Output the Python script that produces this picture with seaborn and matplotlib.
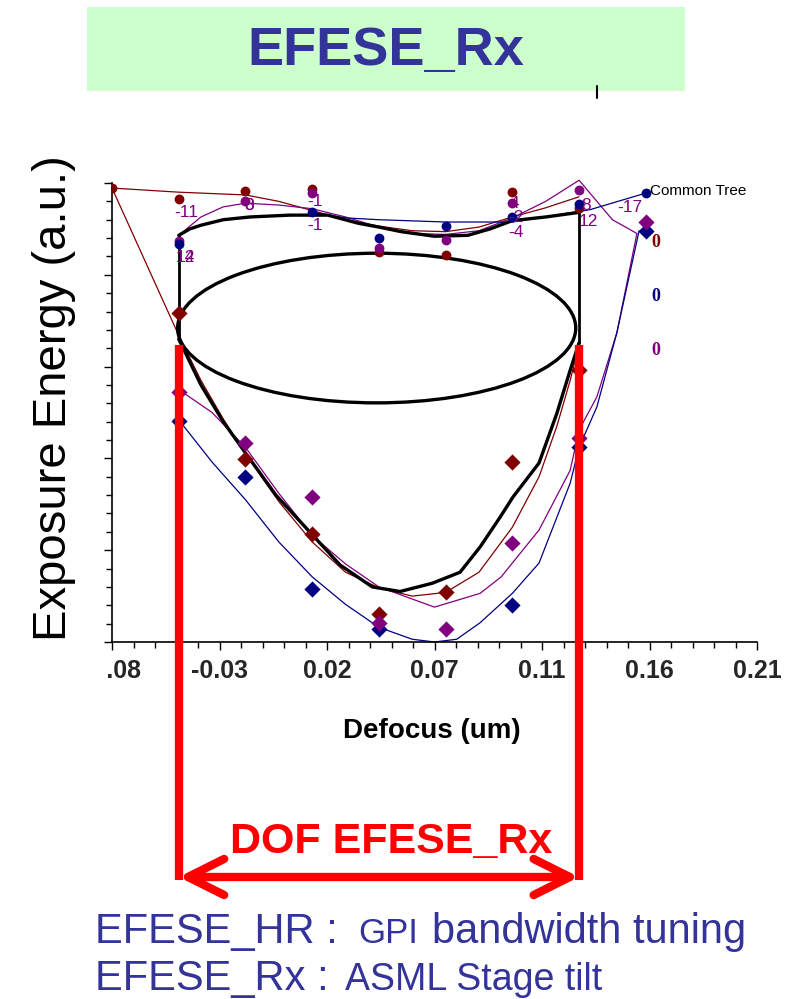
import matplotlib.pyplot as plt
import matplotlib.transforms as mtransforms
from matplotlib.patches import Ellipse, Rectangle, FancyArrowPatch
from matplotlib.lines import Line2D
from matplotlib.ticker import MultipleLocator, AutoMinorLocator
import seaborn as sns

# ---- data (defocus in um, exposure energy in a.u.) ----
xtick_labels = ["-0.08", "-0.03", "0.02", "0.07", "0.11", "0.16", "0.21"]

# upper measurement points (circles)
red_top_x = [-0.08, -0.05, -0.02, 0.01, 0.04, 0.07, 0.10, 0.13]
red_top_y = [49.45, 48.3, 49.1, 49.35, 42.5, 42.2, 49.0, 47.3]
purple_top_x = [-0.05, -0.02, 0.01, 0.04, 0.07, 0.10, 0.13]
purple_top_y = [43.7, 48.0, 48.9, 42.9, 43.8, 47.8, 49.2]
navy_top_x = [-0.05, 0.01, 0.04, 0.07, 0.10, 0.13, 0.16]
navy_top_y = [43.4, 46.8, 44.0, 45.3, 46.3, 47.7, 48.9]

# lower measurement points (diamonds)
red_low_x = [-0.05, -0.02, 0.01, 0.04, 0.07, 0.10, 0.13]
red_low_y = [35.8, 19.9, 11.8, 3.05, 5.45, 19.6, 29.6]
purple_low_x = [-0.05, -0.02, 0.01, 0.04, 0.07, 0.10, 0.13, 0.16]
purple_low_y = [27.2, 21.7, 15.8, 2.1, 1.4, 10.8, 22.2, 45.75]
navy_low_x = [-0.05, -0.02, 0.01, 0.04, 0.10, 0.13, 0.16]
navy_low_y = [24.1, 18.0, 5.8, 1.4, 4.0, 21.2, 44.8]

# fitted curves (thin coloured lines)
red_upper_x = [-0.08, -0.05, -0.02, -0.005, 0.01, 0.025, 0.04, 0.055, 0.07, 0.085, 0.10, 0.115, 0.13]
red_upper_y = [49.45, 49.0, 48.7, 48.0, 47.0, 46.0, 45.3, 44.8, 44.7, 45.2, 46.3, 47.3, 48.5]
red_lower_x = [-0.08, -0.05, -0.04, -0.03, -0.02, -0.005, 0.01, 0.025, 0.04, 0.055, 0.07,
               0.085, 0.10, 0.112, 0.12, 0.126, 0.13]
red_lower_y = [49.45, 33.4, 28.5, 24.3, 20.5, 15.3, 10.9, 7.6, 5.9, 5.0, 5.4,
               7.6, 12.5, 18.0, 23.5, 28.5, 32.3]
purple_upper_x = [-0.05, -0.04, -0.03, -0.02, -0.005, 0.01, 0.025, 0.04, 0.055, 0.07,
                  0.085, 0.10, 0.115, 0.13, 0.145, 0.156]
purple_upper_y = [44.3, 46.3, 47.4, 47.8, 47.6, 47.2, 46.3, 45.2, 44.5, 44.4,
                  44.8, 46.2, 48.0, 50.3, 46.0, 44.5]
purple_lower_x = [0.156, 0.147, 0.138, 0.13, 0.126, 0.112, 0.095, 0.0855, 0.065, 0.04,
                  0.025, 0.01, -0.005, -0.02, -0.035, -0.05]
purple_lower_y = [44.5, 33.7, 26.7, 23.1, 18.7, 12.2, 7.1, 5.3, 3.8, 6.0,
                  8.5, 11.6, 16.2, 21.2, 25.0, 27.5]
navy_upper_x = [0.01, 0.025, 0.04, 0.07, 0.10, 0.135, 0.16]
navy_upper_y = [46.8, 46.2, 46.0, 45.75, 45.75, 47.1, 48.9]
navy_lower_x = [-0.05, -0.035, -0.02, -0.005, 0.01, 0.025, 0.04, 0.055, 0.065, 0.075,
                0.0855, 0.10, 0.112, 0.126, 0.13, 0.138, 0.147, 0.157]
navy_lower_y = [24.2, 19.6, 15.5, 10.9, 7.1, 4.1, 1.6, 0.3, 0.0, 0.3,
                2.1, 5.3, 8.6, 17.3, 21.2, 25.6, 33.7, 44.8]

# common process window (black)
black_upper_x = [-0.05, -0.045, -0.04, -0.03, -0.018, 0.0, 0.017, 0.031, 0.04, 0.05,
                 0.065, 0.08, 0.09, 0.10, 0.115, 0.13]
black_upper_y = [44.3, 45.0, 45.4, 46.0, 46.3, 46.5, 46.5, 45.6, 45.2, 44.7,
                 44.2, 44.3, 45.0, 45.9, 46.3, 46.8]
black_lower_x = [-0.05, -0.04, -0.03, -0.02, -0.0063, 0.01, 0.0225, 0.037, 0.0495, 0.064,
                 0.0765, 0.0855, 0.0945, 0.1003, 0.112, 0.12, 0.126, 0.13]
black_lower_y = [33.0, 28.0, 24.0, 20.6, 16.0, 11.7, 8.4, 6.0, 5.5, 6.4,
                 7.6, 10.35, 13.6, 15.8, 19.5, 24.9, 29.6, 32.6]
ellipse_center = (0.039, 34.2)
ellipse_width = 0.179
ellipse_height = 16.3
dof_left, dof_right = -0.05, 0.13
dof_left_span = (33.0, 44.3)
dof_right_span = (32.6, 46.8)
dof_bar_top = 32.35

# point annotations
point_labels = [("-11", -0.052, 46.8), ("8", -0.0205, 47.5), ("0", -0.0205, 47.5),
                ("-1", 0.008, 48.0), ("-1", 0.008, 45.4), ("14", -0.0515, 41.9),
                ("12", -0.0515, 41.9), ("4", 0.099, 47.8), ("-2", 0.098, 46.2),
                ("-4", 0.098, 44.6), ("8", 0.131, 47.6), ("12", 0.13, 45.8),
                ("-17", 0.147, 47.3)]
zero_labels = [("0", 43.5, "#800000"), ("0", 37.6, "#000080"), ("0", 31.8, "#800080")]

RED, PURPLE, NAVY = "#800000", "#800080", "#000080"
TITLE_BLUE = "#333399"

sns.set_theme(style="ticks")
plt.rcParams['font.family'] = ['Liberation Sans', 'DejaVu Sans']

fig = plt.figure(figsize=(7.87, 9.99), dpi=100)
ax = fig.add_axes([112 / 787, 1 - 642 / 999, 645 / 787, 459 / 999])

# thin fitted curves
for xs, ys, c in [(red_upper_x, red_upper_y, RED), (red_lower_x, red_lower_y, RED),
                  (purple_upper_x, purple_upper_y, PURPLE), (purple_lower_x, purple_lower_y, PURPLE),
                  (navy_upper_x, navy_upper_y, NAVY), (navy_lower_x, navy_lower_y, NAVY)]:
    sns.lineplot(x=xs, y=ys, sort=False, estimator=None, color=c, lw=0.9, ax=ax,
                 zorder=2, clip_on=False)

# black window
sns.lineplot(x=black_upper_x, y=black_upper_y, sort=False, estimator=None,
             color="black", lw=2.4, ax=ax, zorder=3)
sns.lineplot(x=black_lower_x, y=black_lower_y, sort=False, estimator=None,
             color="black", lw=2.4, ax=ax, zorder=3)
ax.plot([dof_left, dof_left], dof_left_span, color="black", lw=2.0, zorder=3)
ax.plot([dof_right, dof_right], dof_right_span, color="black", lw=2.0, zorder=3)
ax.add_patch(Ellipse(ellipse_center, ellipse_width, ellipse_height, fill=False,
                     ec="black", lw=2.4, zorder=3))

# points
for xs, ys, c in [(red_top_x, red_top_y, RED), (purple_top_x, purple_top_y, PURPLE),
                  (navy_top_x, navy_top_y, NAVY)]:
    sns.scatterplot(x=xs, y=ys, marker="o", s=50, color=c, linewidth=0, ax=ax, zorder=4)
for xs, ys, c in [(red_low_x, red_low_y, RED), (navy_low_x, navy_low_y, NAVY),
                  (purple_low_x, purple_low_y, PURPLE)]:
    sns.scatterplot(x=xs, y=ys, marker="D", s=68, color=c, linewidth=0, ax=ax, zorder=4)

for s, x, y in point_labels:
    ax.text(x, y, s, color=PURPLE, fontsize=12.5, ha="left", va="center", zorder=6)
for s, y, c in zero_labels:
    ax.text(0.1625, y, s, color=c, fontsize=13, fontweight="bold", ha="left", va="center",
            family=["Liberation Serif"], zorder=6)
ax.text(0.162, 49.1, "Common Tree", color="black", fontsize=11, ha="left", va="center")

# axes styling
ax.set_xlim(-0.08, 0.21)
ax.set_ylim(0, 50)
ax.set_xticks([-0.08 + i * 0.29 / 6 for i in range(7)])
ax.set_xticklabels(xtick_labels, fontsize=18, fontweight="bold")
ax.xaxis.set_minor_locator(AutoMinorLocator(5))
ax.yaxis.set_major_locator(MultipleLocator(10))
ax.yaxis.set_minor_locator(MultipleLocator(2))
ax.tick_params(axis="y", labelleft=False)
ax.tick_params(which="major", length=6, width=1, color="black", direction="out", pad=6)
ax.tick_params(which="minor", length=4, width=1, color="black", direction="out")
sns.despine(ax=ax)
for sp in ["left", "bottom"]:
    ax.spines[sp].set_color("black")
    ax.spines[sp].set_linewidth(1.2)
ax.set_facecolor("white")

ax.set_xlabel("Defocus (um)", fontsize=20, fontweight="bold", color="black")
ax.xaxis.set_label_coords(0.496, -0.165)
ax.set_ylabel("Exposure Energy (a.u.)", fontsize=34, color="black")
ax.yaxis.set_label_coords(-0.056, 0.532)

# first tick label is cut on its left side in the original
clip = mtransforms.TransformedBbox(mtransforms.Bbox([[106 / 787, 0], [1, 1]]), fig.transFigure)
first = ax.get_xticklabels()[0]
first.set_clip_box(clip)
first.set_clip_on(True)

# red DOF markers
blend = mtransforms.blended_transform_factory(ax.transData, ax.transAxes)
bar_top = dof_bar_top / 50
bar_bottom = (642 - 880) / 459
arrow_y = (642 - 877) / 459
for xv in [dof_left, dof_right]:
    ax.plot([xv, xv], [bar_top, bar_bottom], transform=blend, color="red", lw=6,
            solid_capstyle="butt", clip_on=False, zorder=5)
arr = FancyArrowPatch((dof_left, arrow_y), (dof_right, arrow_y), transform=blend,
                      arrowstyle="<->,head_length=1.3,head_width=0.65", mutation_scale=20,
                      lw=6, color="red", shrinkA=0, shrinkB=0, clip_on=False, zorder=5)
arr.set_capstyle("round")
arr.set_joinstyle("round")
ax.add_patch(arr)
fig.text(391 / 787, 1 - 842 / 999, "DOF EFESE_Rx", color="red", fontsize=31,
         fontweight="bold", ha="center", va="center")

# title box
fig.add_artist(Rectangle((87 / 787, 1 - 91 / 999), 598 / 787, 84 / 999,
                         transform=fig.transFigure, fc="#CCFFCC", ec="none"))
fig.text(386 / 787, 1 - 51 / 999, "EFESE_Rx", color=TITLE_BLUE, fontsize=39,
         fontweight="bold", ha="center", va="center")
fig.add_artist(Line2D([597 / 787, 597 / 787], [1 - 86 / 999, 1 - 98 / 999],
                      transform=fig.transFigure, color="black", lw=1.5))

# bottom notes
fig.text(95 / 787, 1 - 943 / 999, "EFESE_HR :", color=TITLE_BLUE, fontsize=30, va="baseline")
fig.text(358 / 787, 1 - 943 / 999, "GPI", color=TITLE_BLUE, fontsize=25, va="baseline")
fig.text(432 / 787, 1 - 943 / 999, "bandwidth tuning", color=TITLE_BLUE, fontsize=30, va="baseline")
fig.text(95 / 787, 1 - 990 / 999, "EFESE_Rx :", color=TITLE_BLUE, fontsize=30, va="baseline")
fig.text(345 / 787, 1 - 990 / 999, "ASML Stage tilt", color=TITLE_BLUE, fontsize=27, va="baseline")

fig.savefig("out.png", dpi=100, facecolor="white")
